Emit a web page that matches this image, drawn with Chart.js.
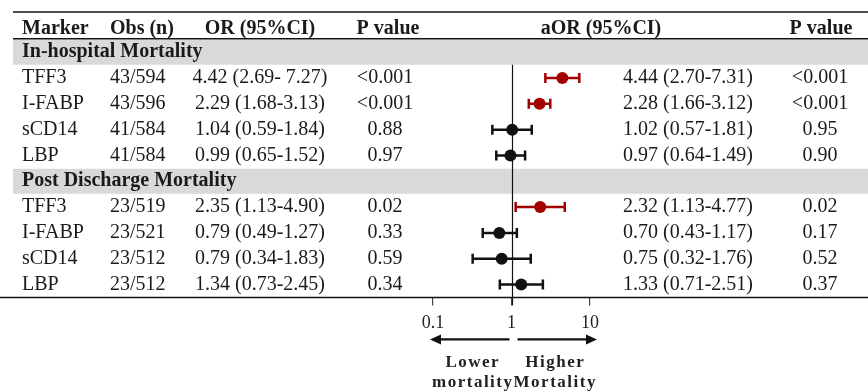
<!DOCTYPE html>
<html>
<head>
<meta charset="utf-8">
<script src="https://cdn.jsdelivr.net/npm/chart.js@4.4.0/dist/chart.umd.min.js"></script>
<style>
  html, body { margin: 0; padding: 0; background: #fff; }
  #wrap { width: 868px; height: 392px; }
</style>
</head>
<body>
<div id="wrap"><canvas id="forest" width="868" height="392"></canvas></div>
<script>
// Datos de la tabla
const columnas = ['Marker', 'Obs (n)', 'OR (95%CI)', 'P value', 'aOR (95%CI)', 'P value'];
const grupos = ['In-hospital Mortality', 'Post Discharge Mortality'];
const marcadores = ['TFF3', 'I-FABP', 'sCD14', 'LBP', 'TFF3', 'I-FABP', 'sCD14', 'LBP'];
const obs = ['43/594', '43/596', '41/584', '41/584', '23/519', '23/521', '23/512', '23/512'];
const orTexto = ['4.42 (2.69- 7.27)', '2.29 (1.68-3.13)', '1.04 (0.59-1.84)', '0.99 (0.65-1.52)',
                 '2.35 (1.13-4.90)', '0.79 (0.49-1.27)', '0.79 (0.34-1.83)', '1.34 (0.73-2.45)'];
const pOR = ['<0.001', '<0.001', '0.88', '0.97', '0.02', '0.33', '0.59', '0.34'];
const aOR = [4.44, 2.28, 1.02, 0.97, 2.32, 0.70, 0.75, 1.33];
const aORbajo = [2.70, 1.66, 0.57, 0.64, 1.13, 0.43, 0.32, 0.71];
const aORalto = [7.31, 3.12, 1.81, 1.49, 4.77, 1.17, 1.76, 2.51];
const pAOR = ['<0.001', '<0.001', '0.95', '0.90', '0.02', '0.17', '0.52', '0.37'];
const ticksX = [0.1, 1, 10];
const etiquetasFlecha = [['Lower', 'mortality'], ['Higher', 'Mortality']];

const ROJO = '#a30000';
const NEGRO = '#111';
const FUENTE = '"Liberation Serif", "Times New Roman", serif';

// fila 0 = encabezado, 1 y 6 = bandas grises
const filaDe = i => Math.floor(i / 4) * 5 + 2 + (i % 4);
const filaGrupo = g => g * 5 + 1;
const colorDe = i => aORbajo[i] > 1 ? ROJO : NEGRO;

// Intervalos de confianza como líneas con topes
const datasetsIC = aOR.map((v, i) => ({
    type: 'line',
    data: [{ x: aORbajo[i], y: filaDe(i) }, { x: aORalto[i], y: filaDe(i) }],
    borderColor: colorDe(i),
    borderWidth: 2.5,
    pointStyle: 'line',
    pointRotation: 90,
    pointRadius: 5,
    pointBorderWidth: 2.5,
    pointBorderColor: colorDe(i),
    fill: false
}));

const datasetPuntos = {
    type: 'scatter',
    data: aOR.map((v, i) => ({ x: v, y: filaDe(i) })),
    pointRadius: 6,
    pointBackgroundColor: aOR.map((v, i) => colorDe(i)),
    pointBorderColor: aOR.map((v, i) => colorDe(i)),
    pointBorderWidth: 0
};

function texto(ctx, t, x, y, align, bold, size) {
    ctx.font = (bold ? 'bold ' : '') + (size || 20) + 'px ' + FUENTE;
    ctx.textAlign = align;
    ctx.fillText(t, x, y);
}

const pluginTabla = {
    id: 'tabla',
    beforeDatasetsDraw(chart) {
        const { ctx, chartArea, scales: { x, y } } = chart;
        const W = chart.width;
        ctx.save();
        // bandas grises
        ctx.fillStyle = '#d9d9d9';
        grupos.forEach((g, k) => {
            const yc = y.getPixelForValue(filaGrupo(k));
            ctx.fillRect(13, yc - 12.5, W - 13, 25);
        });
        // reglas horizontales
        ctx.strokeStyle = '#111';
        ctx.lineWidth = 1.5;
        const yEnc = y.getPixelForValue(filaGrupo(0)) - 13.5;
        [[13, chartArea.top], [13, yEnc], [0, chartArea.bottom]].forEach(([x0, yy]) => {
            ctx.beginPath();
            ctx.moveTo(x0, yy);
            ctx.lineTo(W, yy);
            ctx.stroke();
        });
        // línea de referencia en 1
        const x1 = Math.round(x.getPixelForValue(1)) + 0.5;
        ctx.lineWidth = 1.2;
        ctx.beginPath();
        ctx.moveTo(x1, y.getPixelForValue(filaGrupo(0)) + 12.5);
        ctx.lineTo(x1, chartArea.bottom + 8);
        ctx.stroke();
        ctx.restore();
    },
    afterDatasetsDraw(chart) {
        const { ctx, chartArea, scales: { x, y } } = chart;
        ctx.save();
        ctx.fillStyle = '#1a1a1a';
        ctx.textBaseline = 'middle';
        // encabezado
        const y0 = y.getPixelForValue(0) + 2;
        texto(ctx, columnas[0], 22, y0, 'left', true);
        texto(ctx, columnas[1], 110, y0, 'left', true);
        texto(ctx, columnas[2], 260, y0, 'center', true);
        texto(ctx, columnas[3], 388, y0, 'center', true);
        texto(ctx, columnas[4], 601, y0, 'center', true);
        texto(ctx, columnas[5], 821, y0, 'center', true);
        // grupos
        grupos.forEach((g, k) => texto(ctx, g, 22, y.getPixelForValue(filaGrupo(k)), 'left', true));
        // filas
        marcadores.forEach((m, i) => {
            const yy = y.getPixelForValue(filaDe(i));
            texto(ctx, m, 22, yy, 'left');
            texto(ctx, obs[i], 110, yy, 'left');
            texto(ctx, orTexto[i], 260, yy, 'center');
            texto(ctx, pOR[i], 385, yy, 'center');
            const a = aOR[i].toFixed(2) + ' (' + aORbajo[i].toFixed(2) + '-' + aORalto[i].toFixed(2) + ')';
            texto(ctx, a, 688, yy, 'center');
            texto(ctx, pAOR[i], 820, yy, 'center');
        });
        // flechas
        const x1 = x.getPixelForValue(1);
        const xa = x.getPixelForValue(ticksX[0]) - 3;
        const xb = x.getPixelForValue(ticksX[2]) + 7;
        const yf = chartArea.bottom + 42;
        ctx.strokeStyle = '#111';
        ctx.fillStyle = '#111';
        ctx.lineWidth = 2.2;
        [[x1 - 2, xa], [x1 + 6, xb]].forEach(([s, e]) => {
            const d = Math.sign(e - s);
            ctx.beginPath();
            ctx.moveTo(s, yf);
            ctx.lineTo(e - d * 8, yf);
            ctx.stroke();
            ctx.beginPath();
            ctx.moveTo(e, yf);
            ctx.lineTo(e - d * 11, yf - 5);
            ctx.lineTo(e - d * 11, yf + 5);
            ctx.closePath();
            ctx.fill();
        });
        // textos bajo las flechas
        ctx.fillStyle = '#222';
        ctx.letterSpacing = '1.5px';
        const centros = [(xa + x1) / 2 + 2, (x1 + xb) / 2 + 1];
        etiquetasFlecha.forEach((par, k) => {
            texto(ctx, par[0], centros[k], yf + 23, 'center', true, 17);
            texto(ctx, par[1], centros[k], yf + 43, 'center', true, 17);
        });
        ctx.restore();
    }
};

new Chart(document.getElementById('forest').getContext('2d'), {
    type: 'scatter',
    data: { datasets: [...datasetsIC, datasetPuntos] },
    options: {
        responsive: false,
        animation: false,
        events: [],
        layout: { padding: { left: 433, right: 278, top: 12, bottom: 51 } },
        plugins: { legend: { display: false }, tooltip: { enabled: false } },
        scales: {
            x: {
                type: 'logarithmic',
                min: 0.1,
                max: 10,
                afterBuildTicks: axis => { axis.ticks = ticksX.map(v => ({ value: v })); },
                grid: { drawOnChartArea: false, drawTicks: true, tickLength: 8, color: '#444', lineWidth: 1.2 },
                border: { display: false },
                ticks: {
                    font: { family: FUENTE, size: 18 },
                    color: '#222',
                    padding: 7,
                    maxRotation: 0,
                    autoSkip: false,
                    callback: v => String(v)
                }
            },
            y: { type: 'linear', min: -0.56, max: 10.5, reverse: true, display: false }
        }
    },
    plugins: [pluginTabla]
});
</script>
</body>
</html>
